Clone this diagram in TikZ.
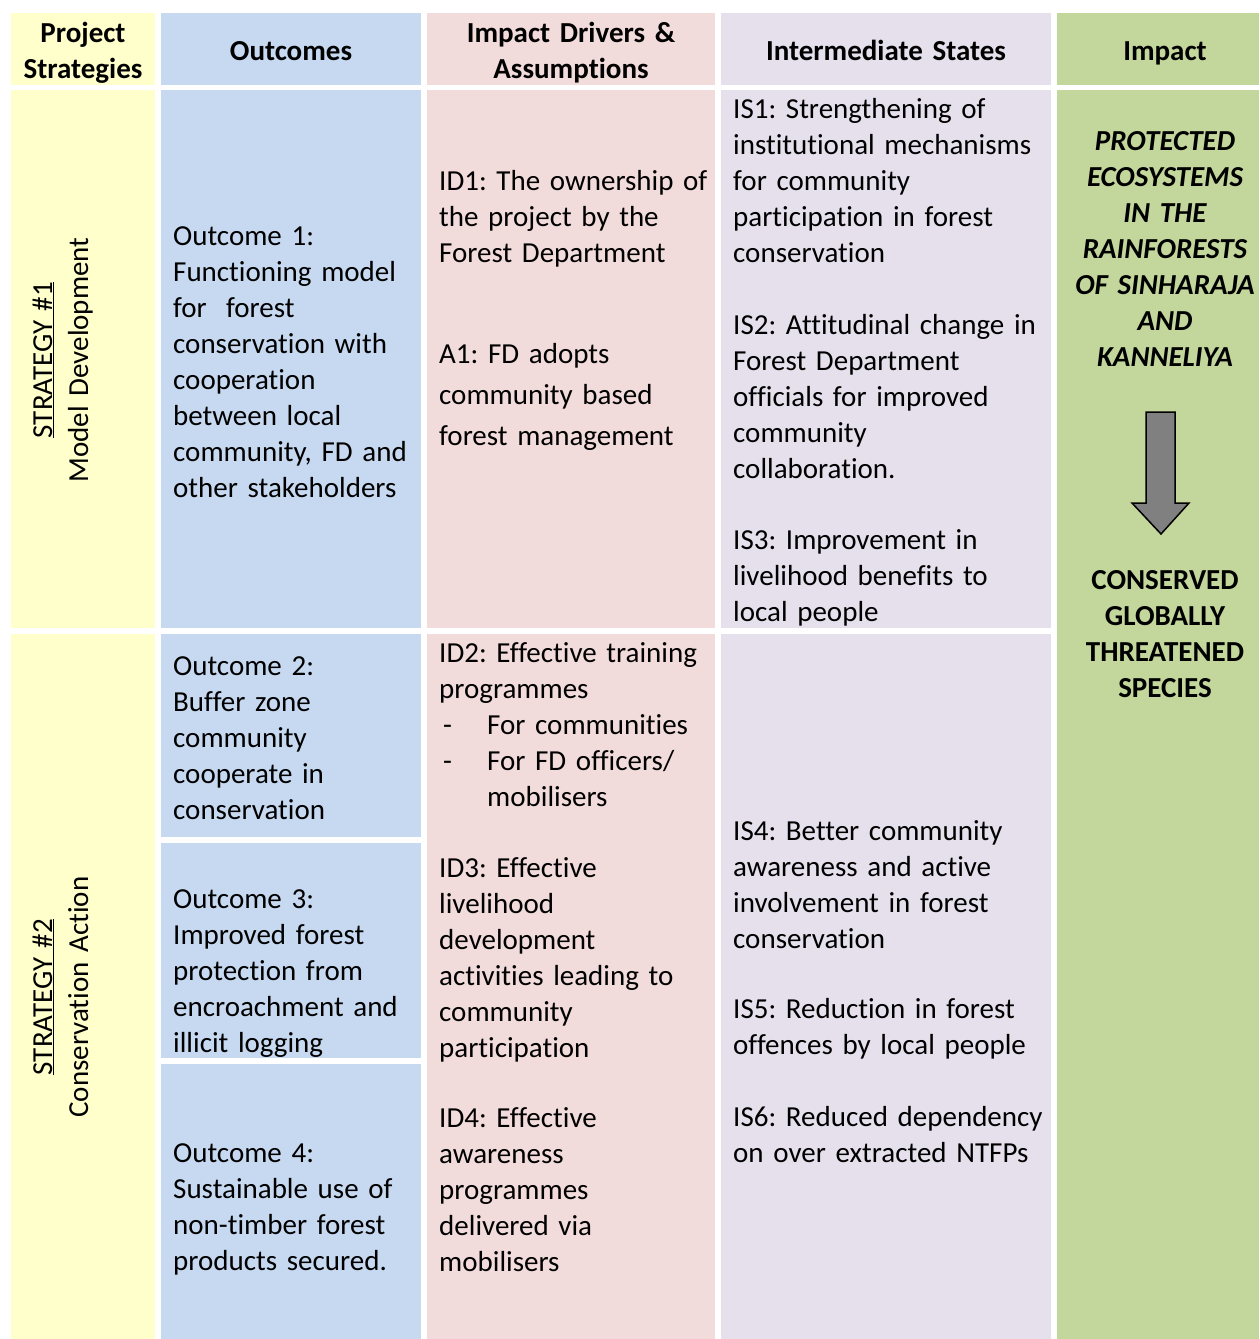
\documentclass[tikz,border=0pt]{standalone}
\usepackage{fontspec}
\setmainfont[Ligatures=NoCommon]{Carlito}
\frenchspacing
\definecolor{stratY}{HTML}{FFFFCC}
\definecolor{outB}{HTML}{C6D9F1}
\definecolor{drvP}{HTML}{F2DCDB}
\definecolor{intL}{HTML}{E5E0EC}
\definecolor{impG}{HTML}{C3D69B}
\definecolor{arrG}{HTML}{808080}
\begin{document}
\begin{tikzpicture}[x=1pt,y=-1pt,
  body/.style={anchor=base west, inner sep=0pt, text width=#1, align=left,
    font=\fontsize{29}{36}\selectfont},
  head/.style={anchor=base, inner sep=0pt, text width=300pt, align=center,
    font=\fontsize{29}{36}\selectfont\bfseries},
  impact/.style={anchor=base, inner sep=0pt, text width=220pt, align=center,
    font=\fontsize{29}{36}\selectfont\bfseries},
  strat/.style={anchor=base, inner sep=0pt, text width=420pt, align=center,
    rotate=90, font=\fontsize{29}{36}\selectfont}]
\useasboundingbox (0,0) rectangle (1259,1339);
\fill[white] (0,0) rectangle (1259,1339);

% header cells
\fill[stratY] (11,13) rectangle (155,85);
\fill[outB]   (161,13) rectangle (421,85);
\fill[drvP]   (427,13) rectangle (715,85);
\fill[intL]   (721,13) rectangle (1051,85);
\fill[impG]   (1057,13) rectangle (1259,85);

% strategy #1 row
\fill[stratY] (11,90) rectangle (155,628);
\fill[outB]   (161,90) rectangle (421,628);
\fill[drvP]   (427,90) rectangle (715,628);
\fill[intL]   (721,90) rectangle (1051,628);

% strategy #2 row
\fill[stratY] (11,634) rectangle (155,1339);
\fill[outB]   (161,634) rectangle (421,837);
\fill[outB]   (161,843) rectangle (421,1058);
\fill[outB]   (161,1064) rectangle (421,1339);
\fill[drvP]   (427,634) rectangle (715,1339);
\fill[intL]   (721,634) rectangle (1051,1339);

% impact column spans both rows
\fill[impG]   (1057,90) rectangle (1259,1339);

% column headings
\node[head] (hStrat) at (83,42) {Project\\Strategies};
\node[head] (hOut) at (291,60) {Outcomes};
\node[head] (hDrv) at (571,42) {Impact Drivers \&\\Assumptions};
\node[head] (hInt) at (886,60) {Intermediate States};
\node[head] (hImp) at (1165,60) {Impact};

% strategies
\node[strat] (s1) at (52,360) {\underline{STRATEGY \#1}\\Model Development};
\node[strat] (s2) at (52,997) {\underline{STRATEGY \#2}\\Conservation Action};

% outcomes
\node[body=245pt] (o1) at (173,245) {Outcome 1:\\Functioning model\\for\ \ forest\\conservation with\\cooperation\\between local\\community, FD and\\other stakeholders};
\node[body=245pt] (o2) at (173,675) {Outcome 2:\\Buffer zone\\community\\cooperate in\\conservation};
\node[body=245pt] (o3) at (173,908) {Outcome 3:\\Improved forest\\protection from\\encroachment and\\illicit logging};
\node[body=245pt] (o4) at (173,1162) {Outcome 4:\\Sustainable use of\\non-timber forest\\products secured.};

% impact drivers and assumptions
\node[body=275pt] (id1) at (439,190) {ID1: The ownership of\\the project by the\\Forest Department};
\node[body=275pt, font=\fontsize{29}{41}\selectfont] (a1) at (439,363) {A1: FD adopts\\community based\\forest management};
\node[body=275pt] (id2) at (439,662) {ID2: Effective training\\programmes\\\hspace*{4pt}\makebox[44pt][l]{-}For communities\\\hspace*{4pt}\makebox[44pt][l]{-}For FD officers/\\\hspace*{48pt}mobilisers};
\node[body=275pt] (id3) at (439,877) {ID3: Effective\\livelihood\\development\\activities leading to\\community\\participation};
\node[body=275pt] (id4) at (439,1127) {ID4: Effective\\awareness\\programmes\\delivered via\\mobilisers};

% intermediate states
\node[body=315pt] (is1) at (733,118) {IS1: Strengthening of\\institutional mechanisms\\for community\\participation in forest\\conservation};
\node[body=315pt] (is2) at (733,334) {IS2: Attitudinal change in\\Forest Department\\officials for improved\\community\\collaboration.};
\node[body=315pt] (is3) at (733,549) {IS3: Improvement in\\livelihood benefits to\\local people};
\node[body=315pt] (is4) at (733,840) {IS4: Better community\\awareness and active\\involvement in forest\\conservation};
\node[body=315pt] (is5) at (733,1018) {IS5: Reduction in forest\\offences by local people};
\node[body=315pt] (is6) at (733,1126) {IS6: Reduced dependency\\on over extracted NTFPs};

% impact
\node[impact] (imp1) at (1165,150) {\itshape PROTECTED\\ECOSYSTEMS\\IN THE\\RAINFORESTS\\OF SINHARAJA\\AND\\KANNELIYA};
\node[impact] (imp2) at (1165,589) {CONSERVED\\GLOBALLY\\THREATENED\\SPECIES};

% block arrow between the two impact statements
\draw[fill=arrG, draw=black, line width=1.5pt, line join=miter]
  (1146,412) -- (1175,412) -- (1175,503) -- (1189,503) -- (1161,534)
  -- (1132,503) -- (1146,503) -- cycle;
\end{tikzpicture}
\end{document}
